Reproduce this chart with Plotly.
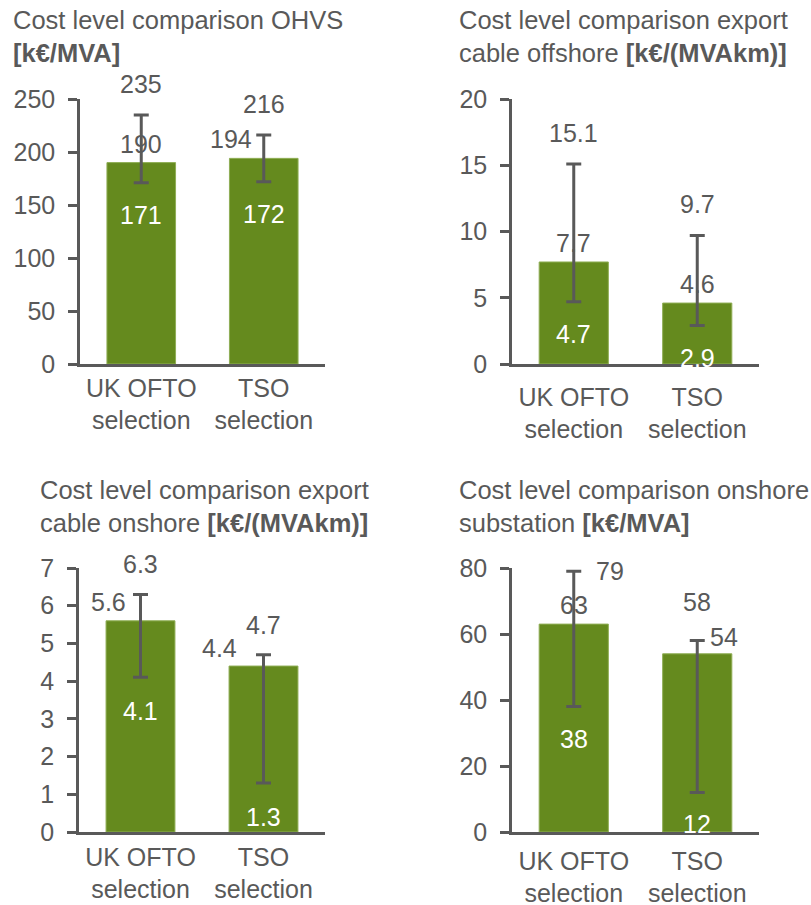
import plotly.graph_objects as go

# ---------------- data ----------------
categories = ["UK OFTO<br>selection", "TSO<br>selection"]

ohvs_mean = [190, 194]
ohvs_low = [171, 172]
ohvs_high = [235, 216]

offshore_mean = [7.7, 4.6]
offshore_low = [4.7, 2.9]
offshore_high = [15.1, 9.7]

onshore_mean = [5.6, 4.4]
onshore_low = [4.1, 1.3]
onshore_high = [6.3, 4.7]

substation_mean = [63, 54]
substation_low = [38, 12]
substation_high = [79, 58]

titles = [
    "Cost level comparison OHVS<br><b>[k€/MVA]</b>",
    "Cost level comparison export<br>cable offshore <b>[k€/(MVAkm)]</b>",
    "Cost level comparison export<br>cable onshore <b>[k€/(MVAkm)]</b>",
    "Cost level comparison onshore<br>substation <b>[k€/MVA]</b>",
]
y_ranges = [[0, 250], [0, 20], [0, 7], [0, 80]]
y_dticks = [50, 5, 1, 20]

# ---------------- style ----------------
W, H = 811, 905
GREEN = "#658A1E"
GRAY = "#595959"
FONT = "Liberation Sans, Arial, sans-serif"
FS = 25

# pixel boxes of each plot area: (left, right, top, bottom)
boxes = [(80, 325, 99, 364), (512, 759, 99, 364),
         (79, 325, 568, 832), (512, 759, 568, 832)]
title_pos = [(11, 4), (457, 4), (38, 474), (457, 474)]
xlabel_standoff = [0, 9, 1, 5]

# label offsets (xshift, yshift) in px for [high, mean, low] labels, per category
offsets = [
    {"high": [(0, 31), (0, 31)], "mean": [(0, 19), (-33, 19)], "low": [(0, -32), (0, -32)]},
    {"high": [(0, 31), (0, 31)], "mean": [(0, 19), (0, 19)], "low": [(0, -32), (0, -32)]},
    {"high": [(0, 30), (0, 30)], "mean": [(-32, 19), (-44, 18)], "low": [(0, -34), (0, -34)]},
    {"high": [(36, 0), (0, 39)], "mean": [(0, 19), (27, 17)], "low": [(0, -32), (0, -32)]},
]

panels = [
    (ohvs_mean, ohvs_low, ohvs_high),
    (offshore_mean, offshore_low, offshore_high),
    (onshore_mean, onshore_low, onshore_high),
    (substation_mean, substation_low, substation_high),
]


def fmt(v):
    return f"{v:g}"


fig = go.Figure()
annotations = []

for i, (mean, low, high) in enumerate(panels):
    n = "" if i == 0 else str(i + 1)
    xa, ya = "x" + n, "y" + n
    fig.add_trace(go.Bar(
        x=categories, y=mean, xaxis=xa, yaxis=ya,
        width=0.56,
        marker=dict(color=GREEN, line=dict(color="#8FAE55", width=1)),
        error_y=dict(type="data", symmetric=False,
                     array=[h - m for h, m in zip(high, mean)],
                     arrayminus=[m - l for m, l in zip(mean, low)],
                     color=GRAY, thickness=3, width=7.5),
        showlegend=False, hoverinfo="skip",
    ))

    l, r, t, b = boxes[i]
    fig.update_layout(**{
        ("xaxis" + n): dict(
            domain=[l / W, r / W], anchor=ya, type="category",
            range=[-0.5, 1.5], automargin=False,
            showline=True, linecolor=GRAY, linewidth=2.5,
            ticks="", showgrid=False, zeroline=False,
            tickfont=dict(family=FONT, size=FS, color=GRAY),
            ticklabelstandoff=xlabel_standoff[i],
        ),
        ("yaxis" + n): dict(
            domain=[1 - b / H, 1 - t / H], anchor=xa, automargin=False,
            range=y_ranges[i], dtick=y_dticks[i], tick0=0,
            showline=True, linecolor=GRAY, linewidth=2.5,
            ticks="outside", ticklen=9, tickwidth=2.5, tickcolor=GRAY,
            showgrid=False, zeroline=False,
            tickfont=dict(family=FONT, size=FS, color=GRAY),
            ticklabelstandoff=8,
        ),
    })

    # data labels
    for kind, vals, col in (("high", high, GRAY), ("mean", mean, GRAY), ("low", low, "white")):
        for j, v in enumerate(vals):
            dx, dy = offsets[i][kind][j]
            annotations.append(dict(
                x=categories[j], y=v, xref=xa, yref=ya,
                text=fmt(v), showarrow=False,
                xanchor="center", yanchor="middle",
                xshift=dx, yshift=dy,
                font=dict(family=FONT, size=FS, color=col),
            ))

    # title
    tx, ty = title_pos[i]
    annotations.append(dict(
        x=tx / W, y=1 - ty / H, xref="paper", yref="paper",
        xanchor="left", yanchor="top", align="left",
        text=titles[i], showarrow=False,
        font=dict(family=FONT, size=25.5, color=GRAY),
    ))

fig.update_layout(
    width=W, height=H,
    margin=dict(l=0, r=0, t=0, b=0),
    paper_bgcolor="white", plot_bgcolor="white",
    annotations=annotations,
    bargap=0.44,
)

fig.write_html("out.html", config={"displayModeBar": False},
               post_script="document.body.style.margin='0';")
